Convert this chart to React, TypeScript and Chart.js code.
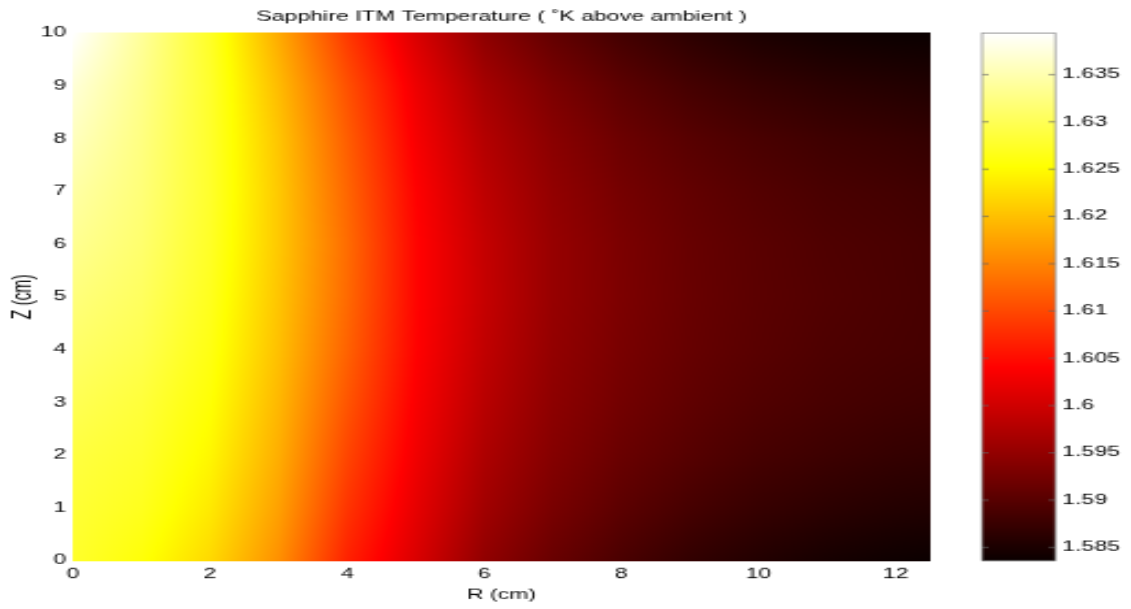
import React, { useEffect, useRef } from "react";
import { Chart, registerables } from "chart.js";

Chart.register(...registerables);

// ---- data ----
const TITLE = "Sapphire ITM Temperature ( ˚K above ambient )";
const X_LABEL = "R (cm)";
const Y_LABEL = "Z (cm)";

const R_CM = [0, 1, 2, 3, 4, 5, 6, 7, 8, 9, 10, 11, 12, 12.5];
const Z_CM = [0, 1, 2, 3, 4, 5, 6, 7, 8, 9, 10];

// temperature (K above ambient), one row per Z value, one column per R value
const TEMP_ROWS = [
  [1.6277, 1.6257, 1.6221, 1.6160, 1.6068, 1.6009, 1.5948, 1.5914, 1.5889, 1.5869, 1.5856, 1.5846, 1.5839, 1.5837],
  [1.6282, 1.6269, 1.6235, 1.6174, 1.6084, 1.6020, 1.5962, 1.5928, 1.5904, 1.5886, 1.5873, 1.5864, 1.5857, 1.5855],
  [1.6288, 1.6277, 1.6246, 1.6185, 1.6098, 1.6029, 1.5972, 1.5938, 1.5915, 1.5899, 1.5886, 1.5878, 1.5871, 1.5869],
  [1.6299, 1.6285, 1.6255, 1.6193, 1.6111, 1.6036, 1.5981, 1.5945, 1.5923, 1.5907, 1.5895, 1.5887, 1.5881, 1.5879],
  [1.6310, 1.6296, 1.6263, 1.6200, 1.6122, 1.6042, 1.5988, 1.5950, 1.5928, 1.5912, 1.5901, 1.5892, 1.5887, 1.5885],
  [1.6321, 1.6305, 1.6269, 1.6204, 1.6128, 1.6044, 1.5992, 1.5953, 1.5931, 1.5914, 1.5903, 1.5895, 1.5889, 1.5886],
  [1.6333, 1.6313, 1.6274, 1.6207, 1.6130, 1.6044, 1.5991, 1.5953, 1.5930, 1.5913, 1.5902, 1.5893, 1.5888, 1.5885],
  [1.6344, 1.6319, 1.6277, 1.6207, 1.6125, 1.6041, 1.5985, 1.5949, 1.5925, 1.5909, 1.5897, 1.5888, 1.5883, 1.5880],
  [1.6358, 1.6324, 1.6277, 1.6204, 1.6118, 1.6034, 1.5977, 1.5942, 1.5917, 1.5900, 1.5888, 1.5879, 1.5873, 1.5870],
  [1.6372, 1.6330, 1.6277, 1.6196, 1.6107, 1.6026, 1.5965, 1.5930, 1.5904, 1.5885, 1.5872, 1.5863, 1.5857, 1.5854],
  [1.6394, 1.6338, 1.6274, 1.6182, 1.6087, 1.6009, 1.5945, 1.5909, 1.5883, 1.5864, 1.5850, 1.5842, 1.5837, 1.5836],
];

const X_TICKS = [0, 2, 4, 6, 8, 10, 12];
const Y_TICKS = [0, 1, 2, 3, 4, 5, 6, 7, 8, 9, 10];
const CB_TICKS = [1.585, 1.59, 1.595, 1.6, 1.605, 1.61, 1.615, 1.62, 1.625, 1.63, 1.635];

const R_MAX = 12.5;
const Z_MAX = 10;
const C_MIN = 1.5836;
const C_MAX = 1.6394;

// ---- styling / layout ----
const SX = 2.2; // horizontal stretch of the canvases (reference is stretched)
const SY = 1.3; // vertical stretch
const MAIN_W = 436;
const CB_W = 78;
const CAN_H = 468;
const FS = 10.5;
const LH = FS * 1.2;
const YT_FS = 12;
const FONT_FAMILY = "'Liberation Sans', Arial, Helvetica, sans-serif";
const TEXT_COLOR = "#000";

const clamp = (v: number, a: number, b: number) => Math.max(a, Math.min(b, v));

function hot(t: number): [number, number, number] {
  const idx = clamp(t, 0, 1) * 63 + 1;
  const r = clamp(idx / 24, 0, 1);
  const g = clamp((idx - 24) / 24, 0, 1);
  const b = clamp((idx - 48) / 16, 0, 1);
  return [Math.round(r * 255), Math.round(g * 255), Math.round(b * 255)];
}

function sampleTemp(rv: number, zv: number): number {
  const r = clamp(rv, R_CM[0], R_CM[R_CM.length - 1]);
  const z = clamp(zv, Z_CM[0], Z_CM[Z_CM.length - 1]);
  let i = 0;
  while (i < R_CM.length - 2 && r > R_CM[i + 1]) i++;
  let j = 0;
  while (j < Z_CM.length - 2 && z > Z_CM[j + 1]) j++;
  const fr = (r - R_CM[i]) / (R_CM[i + 1] - R_CM[i]);
  const fz = (z - Z_CM[j]) / (Z_CM[j + 1] - Z_CM[j]);
  const a = TEMP_ROWS[j][i];
  const b = TEMP_ROWS[j][i + 1];
  const c = TEMP_ROWS[j + 1][i];
  const d = TEMP_ROWS[j + 1][i + 1];
  return a * (1 - fr) * (1 - fz) + b * fr * (1 - fz) + c * (1 - fr) * fz + d * fr * fz;
}

const heatPlugin = {
  id: "heatmap",
  beforeDatasetsDraw(chart: any) {
    const { ctx, chartArea, scales } = chart;
    const x0 = Math.round(chartArea.left);
    const x1 = Math.round(chartArea.right);
    const y0 = Math.round(chartArea.top);
    const y1 = Math.round(chartArea.bottom);
    const w = x1 - x0;
    const h = y1 - y0;
    const img = ctx.createImageData(w, h);
    const xs: number[] = [];
    for (let i = 0; i < w; i++) xs.push(scales.x.getValueForPixel(x0 + i + 0.5));
    for (let j = 0; j < h; j++) {
      const zv = scales.y.getValueForPixel(y0 + j + 0.5);
      for (let i = 0; i < w; i++) {
        const T = sampleTemp(xs[i], zv);
        const [r, g, b] = hot((T - C_MIN) / (C_MAX - C_MIN));
        const k = (j * w + i) * 4;
        img.data[k] = r;
        img.data[k + 1] = g;
        img.data[k + 2] = b;
        img.data[k + 3] = 255;
      }
    }
    ctx.putImageData(img, x0, y0);
  },
};

const colorbarPlugin = {
  id: "colorbar",
  beforeDatasetsDraw(chart: any) {
    const { ctx, chartArea, scales } = chart;
    const y0 = Math.round(chartArea.top);
    const y1 = Math.round(chartArea.bottom);
    ctx.save();
    for (let py = y0; py < y1; py++) {
      const v = scales.y.getValueForPixel(py + 0.5);
      const [r, g, b] = hot((v - C_MIN) / (C_MAX - C_MIN));
      ctx.fillStyle = `rgb(${r},${g},${b})`;
      ctx.fillRect(chartArea.left, py, chartArea.right - chartArea.left, 1);
    }
    ctx.restore();
  },
  afterDraw(chart: any) {
    const { ctx, chartArea, scales } = chart;
    ctx.save();
    ctx.strokeStyle = "#666";
    ctx.lineWidth = 0.7;
    for (const v of CB_TICKS) {
      const y = scales.y.getPixelForValue(v);
      ctx.beginPath();
      ctx.moveTo(chartArea.left, y);
      ctx.lineTo(chartArea.left + 3, y);
      ctx.moveTo(chartArea.right - 3, y);
      ctx.lineTo(chartArea.right, y);
      ctx.stroke();
    }
    ctx.strokeStyle = "#888";
    ctx.strokeRect(chartArea.left, chartArea.top, chartArea.right - chartArea.left, chartArea.bottom - chartArea.top);
    ctx.restore();
  },
};

const font = { family: FONT_FAMILY, size: FS, weight: "normal" as const, lineHeight: 1.2 };
const yTitleFont = { family: FONT_FAMILY, size: YT_FS, weight: "normal" as const, lineHeight: 1.2 };

export default function App() {
  const mainRef = useRef<HTMLCanvasElement | null>(null);
  const cbRef = useRef<HTMLCanvasElement | null>(null);

  useEffect(() => {
    if (!mainRef.current || !cbRef.current) return;

    const points: any[] = [];
    Z_CM.forEach((z, j) => R_CM.forEach((r, i) => points.push({ x: r, y: z, v: TEMP_ROWS[j][i] })));

    const main = new Chart(mainRef.current, {
      type: "scatter",
      data: {
        datasets: [{ label: "Temperature", data: points, pointRadius: 0, pointHoverRadius: 0, showLine: false }],
      },
      options: {
        responsive: false,
        animation: false,
        devicePixelRatio: 1,
        events: [],
        layout: { padding: { left: 0, top: 0, right: MAIN_W - 930 / SX, bottom: 0 } },
        plugins: {
          legend: { display: false },
          tooltip: { enabled: false },
          title: {
            display: true,
            text: TITLE,
            fullSize: false,
            color: TEXT_COLOR,
            font,
            padding: { top: 16.5 / SY - LH / 2, bottom: 33 / SY - 16.5 / SY - LH / 2 },
          },
        },
        scales: {
          x: {
            type: "linear",
            min: 0,
            max: R_MAX,
            afterBuildTicks: (s: any) => {
              s.ticks = X_TICKS.map((v) => ({ value: v }));
            },
            afterFit: (s: any) => {
              s.height = CAN_H - 561 / SY;
            },
            ticks: { padding: 575 / SY - 561 / SY - LH / 2, color: TEXT_COLOR, font, maxRotation: 0, autoSkip: false, callback: (v: any) => String(v) },
            grid: { display: false, drawTicks: false },
            border: { display: false },
            title: { display: true, text: X_LABEL, color: TEXT_COLOR, font, padding: { top: 0, bottom: CAN_H - LH / 2 - 595 / SY } },
          },
          y: {
            type: "linear",
            min: 0,
            max: Z_MAX,
            afterBuildTicks: (s: any) => {
              s.ticks = Y_TICKS.map((v) => ({ value: v }));
            },
            afterFit: (s: any) => {
              s.width = 73 / SX;
            },
            ticks: { padding: 3, color: TEXT_COLOR, font, autoSkip: false, callback: (v: any) => String(v) },
            grid: { display: false, drawTicks: false },
            border: { display: false },
            title: { display: true, text: Y_LABEL, color: TEXT_COLOR, font: yTitleFont, padding: { top: 23 / SX - (YT_FS * 1.2) / 2, bottom: 0 } },
          },
        },
      },
      plugins: [heatPlugin],
    } as any);

    const cb = new Chart(cbRef.current, {
      type: "scatter",
      data: { datasets: [{ label: "colorbar", data: CB_TICKS.map((v) => ({ x: 0.5, y: v })), pointRadius: 0 }] },
      options: {
        responsive: false,
        animation: false,
        devicePixelRatio: 1,
        events: [],
        layout: { padding: { left: (982 - 960) / SX, top: 33 / SY, right: 0, bottom: CAN_H - 561 / SY } },
        plugins: { legend: { display: false }, tooltip: { enabled: false }, title: { display: false } },
        scales: {
          x: { display: false, min: 0, max: 1 },
          y: {
            type: "linear",
            position: "right",
            min: C_MIN,
            max: C_MAX,
            afterBuildTicks: (s: any) => {
              s.ticks = CB_TICKS.map((v) => ({ value: v }));
            },
            afterFit: (s: any) => {
              s.width = CB_W - (1055 - 960) / SX;
            },
            ticks: { padding: (1062 - 1055) / SX, color: TEXT_COLOR, font, autoSkip: false, callback: (v: any) => String(v) },
            grid: { display: false, drawTicks: false },
            border: { display: false },
          },
        },
      },
      plugins: [colorbarPlugin],
    } as any);

    return () => {
      main.destroy();
      cb.destroy();
    };
  }, []);

  return (
    <div style={{ position: "fixed", left: 0, top: 0, width: 1131, height: 609, background: "#fff" }}>
      <canvas
        ref={mainRef}
        width={MAIN_W}
        height={CAN_H}
        style={{ position: "absolute", left: 0, top: 0, width: MAIN_W * SX, height: CAN_H * SY }}
      />
      <canvas
        ref={cbRef}
        width={CB_W}
        height={CAN_H}
        style={{ position: "absolute", left: 960, top: 0, width: CB_W * SX, height: CAN_H * SY }}
      />
    </div>
  );
}
